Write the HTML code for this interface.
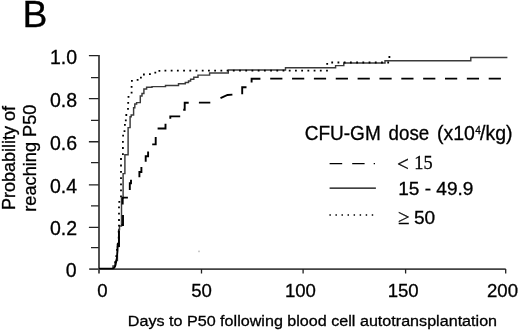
<!DOCTYPE html>
<html><head><meta charset="utf-8">
<style>
html,body{margin:0;padding:0;background:#fff;}
body{width:520px;height:332px;overflow:hidden;position:relative;}
svg{position:absolute;left:0;top:0;}
text{font-family:"Liberation Sans",Arial,sans-serif;fill:#000;stroke:#000;stroke-width:0.3;}
.serif{font-family:"Liberation Serif","Times New Roman",serif;}
</style></head>
<body>
<svg width="520" height="332" viewBox="0 0 520 332">
<rect width="520" height="332" fill="#fff"/>
<!-- panel label -->
<text x="22.6" y="27.1" font-size="36" textLength="24.9" lengthAdjust="spacingAndGlyphs">B</text>
<!-- axes -->
<g stroke="#222" stroke-width="1.3" fill="none">
<path d="M99 55 V273.5" stroke="#333" stroke-width="1.7"/>
<path d="M89.2 269.1 H505.7" stroke="#444" stroke-width="1.6"/>
<path d="M88.9 55.61 H98.7 M88.9 98.58 H98.7 M88.9 141.77 H98.7 M88.9 184.82 H98.7 M88.9 227.43 H98.7"/>
<path d="M91 77.53 H98.7 M91 120.43 H98.7 M91 162.71 H98.7 M91 205.8 H98.7 M91 247.71 H98.7"/>
<path d="M201.5 269 V273.5 M303.1 269 V273.5 M405.6 269 V273.5 M505.7 269 V273.5"/>
</g>
<!-- y tick labels -->
<g font-size="19.5" text-anchor="end">
<text x="77" y="64">1.0</text>
<text x="77" y="106.8">0.8</text>
<text x="77" y="149.5">0.6</text>
<text x="77" y="192.8">0.4</text>
<text x="77" y="235.3">0.2</text>
<text x="76.6" y="277.3">0</text>
</g>
<!-- x tick labels -->
<g font-size="18.6" text-anchor="middle">
<text x="102.5" y="296.5">0</text>
<text x="201.6" y="296.5">50</text>
<text x="300.4" y="296.5">100</text>
<text x="403.2" y="296.5">150</text>
<text x="502.5" y="296.5">200</text>
</g>
<!-- axis titles -->
<text x="127.8" y="326.2" font-size="15.2" textLength="369.3" lengthAdjust="spacingAndGlyphs">Days to P50 following blood cell autotransplantation</text>
<text transform="translate(15.2 210.1) rotate(-90)" font-size="18">Probability of</text>
<text transform="translate(36.2 211.7) rotate(-90)" font-size="18.2">reaching P50</text>
<!-- legend -->
<g font-size="19.5">
<text x="304.8" y="139.6" textLength="75.9" lengthAdjust="spacingAndGlyphs">CFU-GM</text>
<text x="388.6" y="139.6" textLength="40.6" lengthAdjust="spacingAndGlyphs">dose</text>
<text x="437" y="139.6">(x10</text>
<text x="475.2" y="133.8" font-size="10">4</text>
<text x="480" y="139.6">/kg)</text>
</g>
<g fill="none" stroke="#000">
<path d="M329.6 163.6 H342.2 M352.2 163.6 H364.6 M373.7 163.6 H375" stroke-width="1.45"/>
<path d="M329.6 188.1 H375.9" stroke-width="1.3"/>
<path d="M329.4 215 H376" stroke-width="1.45" stroke-dasharray="1.45 4.6"/>
</g>
<text x="396.9" y="170.8" font-size="21" class="serif">&lt;</text>
<text x="414.3" y="168.9" font-size="19.4" class="serif" textLength="18.3" lengthAdjust="spacingAndGlyphs">15</text>
<text x="398.2" y="194.7" font-size="18" textLength="75.3" lengthAdjust="spacingAndGlyphs">15 - 49.9</text>
<text x="398" y="224.1" font-size="21" class="serif">&#8805;</text>
<text x="414" y="223.6" font-size="18" textLength="21.2" lengthAdjust="spacingAndGlyphs">50</text>
<rect x="198.4" y="250.6" width="1.2" height="1.6" fill="#aaa"/>
<!-- curves -->
<g fill="none" stroke="#000" stroke-linejoin="miter">
<!-- solid 15-49.9 -->
<path stroke-width="1.45" stroke="#3a3a3a" d="M99 268.6 H113 V266 H115 V262.3 H116.1 V260.4 H117.4 V246.5 H118.7 V229.5 H119.5 V226 H121.5 V198 H123.1 V173.6 H124.9 V154.7 H128.1 V127.6 H130.1 V116.8 H131.2 V115 H133.6 V107.7 H134.8 V104 H136.6 V102.6 H140.3 V96 H142 V93.4 H143.9 V88.9 H146.6 V87.2 H152 V86.6 H165.5 V85.4 H178.5 V83.8 H185.3 V82.5 H188.5 V81 H190.6 V79.3 H193.8 V77.3 H198 V75.1 H209.6 V73 H228.3 V70 H285.5 V67.8 H335.6 V65.6 H343.8 V63 H385 V60.8 H470.8 V57.5 H507.4"/>
<path stroke-width="1.7" d="M99 268.5 H112.6 Q115 268 115.7 264.5 L116.8 258 L117.6 250 V244"/>
<!-- dashed < 15 -->
<path stroke-width="1.9" d="M119 247 V230.5 M121.5 225 H123 V215 M122.7 204.6 V197.6 H127.9 M129.8 190 V183.3 H131 V179.8 M139.4 177.3 V172 H141.4 V167.1 M145.7 161.7 V156.3 H148.1 V151.4 M152.2 144.4 H155.7 V136.9 M157.6 128.5 H165.5 V123.7 M170.3 118.8 V116.4 H180.2 M183.2 109.7 H184.7 V102.7 H188.7 M198.9 102.6 H210.3 M220.5 98.2 L227.5 95 L232.4 94.6 M242.2 94.2 V87.2 H246.5 M251.6 82.5 V78.8 H260.4"/>
<path stroke-width="1.9" stroke-dasharray="12.2 9.65" d="M270.2 78.6 H501"/>
<!-- dotted >= 50 -->
<path stroke-width="1.8" d="M114.50 262.20h1.8 M115.40 256.20h1.8 M116.10 249.80h1.8 M116.90 243.60h1.8 M117.80 237.60h1.8 M117.80 231.60h1.8 M118.10 225.70h1.8 M118.10 220.00h1.8 M118.10 213.70h1.8 M118.10 207.40h1.8 M118.40 201.90h1.8 M120.10 196.30h1.8 M120.10 190.30h1.8 M120.10 184.30h1.8 M120.10 178.10h1.8 M120.10 171.90h1.8 M120.10 165.50h1.8 M120.10 159.00h1.8 M122.00 154.20h1.8 M122.00 148.00h1.8 M122.00 141.90h1.8 M122.20 135.70h1.8 M123.60 131.20h1.8 M124.00 124.90h1.8 M124.90 120.40h1.8 M125.40 115.00h1.8 M127.10 108.80h1.8 M127.30 102.90h1.8 M127.60 96.80h1.8 M130.70 92.60h1.8 M130.70 86.90h1.8 M131.00 80.90h1.8 M136.70 79.80h1.8 M140.00 77.60h1.8 M143.00 74.50h1.8 M149.00 74.20h1.8 M154.40 72.70h1.8 M158.50 70.80h1.8 M164.50 70.55h1.8 M170.72 70.55h1.8 M176.93 70.55h1.8 M183.15 70.55h1.8 M189.36 70.55h1.8 M195.58 70.55h1.8 M201.79 70.55h1.8 M208.01 70.55h1.8 M214.22 70.55h1.8 M220.44 70.55h1.8 M226.65 70.55h1.8 M232.87 70.55h1.8 M239.08 70.55h1.8 M245.30 70.55h1.8 M251.51 70.55h1.8 M257.73 70.55h1.8 M263.94 70.55h1.8 M270.16 70.55h1.8 M276.37 70.55h1.8 M282.58 70.55h1.8 M288.80 70.55h1.8 M295.01 70.55h1.8 M301.23 70.55h1.8 M307.44 70.55h1.8 M313.66 70.55h1.8 M319.87 70.55h1.8 M326.09 70.55h1.8 M326.30 63.90h1.8 M331.30 62.50h1.8 M337.52 62.50h1.8 M343.74 62.50h1.8 M349.96 62.50h1.8 M356.18 62.50h1.8 M362.40 62.50h1.8 M368.62 62.50h1.8 M374.84 62.50h1.8 M381.06 62.50h1.8 M387.28 62.50h1.8 M388.50 57.00h1.8"/>
</g>
</svg>
</body></html>
